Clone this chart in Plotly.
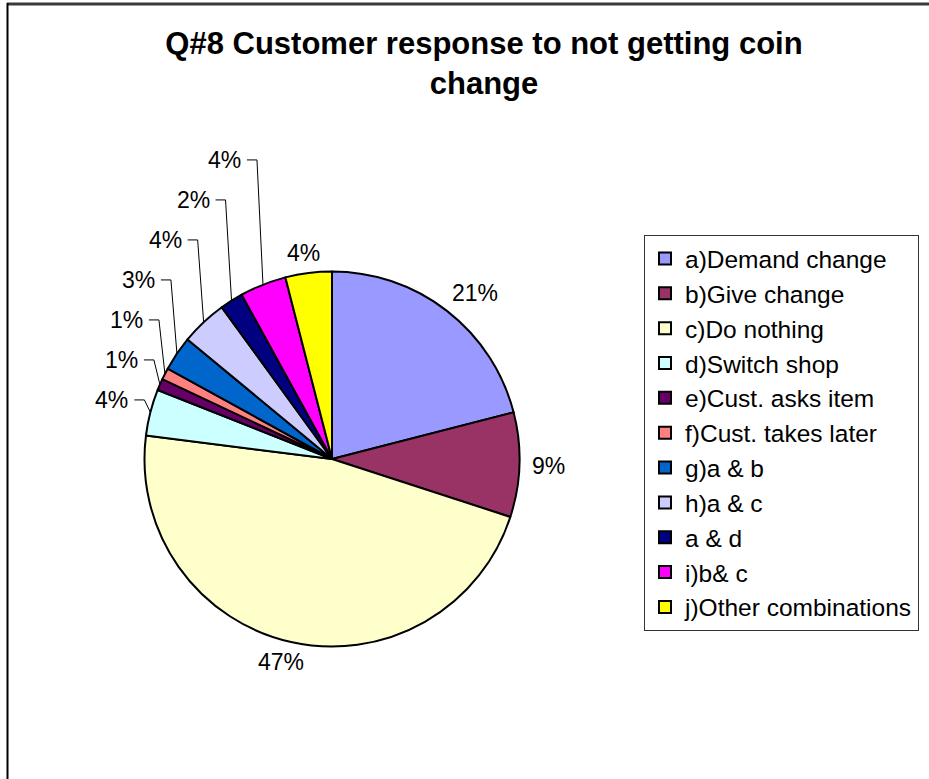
import math
import plotly.graph_objects as go

# Survey answers (share of respondents, %)
categories = ["a)Demand change", "b)Give change", "c)Do nothing", "d)Switch shop",
              "e)Cust. asks item", "f)Cust. takes later", "g)a & b", "h)a & c",
              "a & d", "i)b& c", "j)Other combinations"]
percent_values = [21, 9, 47, 4, 1, 1, 3, 4, 2, 4, 4]
slice_colors = ["#9999FF", "#993366", "#FFFFCC", "#CCFFFF", "#660066", "#FF8080",
                "#0066CC", "#CCCCFF", "#000080", "#FF00FF", "#FFFF00"]

W, H = 929, 779
CX, CY, R = 332, 459, 187.5
FONT = "Arial, Liberation Sans, sans-serif"
LABEL_SIZE = 23


def px(x):
    return x / W


def py(y):
    return 1 - y / H


fig = go.Figure(go.Pie(
    labels=categories,
    values=percent_values,
    sort=False,
    direction="clockwise",
    rotation=0,
    marker=dict(colors=slice_colors, line=dict(color="black", width=2)),
    textinfo="none",
    hoverinfo="skip",
    domain=dict(x=[px(CX - R), px(CX + R)], y=[py(CY + R), py(CY - R)]),
))

# slice mid-angles (degrees clockwise from 12 o'clock)
total = float(sum(percent_values))
mids, cum = [], 0.0
for v in percent_values:
    mids.append((cum + v / 2) / total * 360)
    cum += v
texts = [f"{round(v / total * 100)}%" for v in percent_values]

char_w = {"%": 0.889}


def text_width(s):
    return sum(char_w.get(c, 0.556) for c in s) * LABEL_SIZE


annotations, shapes = [], []

# labels that need leader lines: the crowded upper-left run of small slices
leader = [i for i, a in enumerate(mids) if 270 < a < 345]
leader.sort(key=lambda i: mids[i])
prev_y = None
for i in leader:
    a = math.radians(mids[i])
    ex, ey = CX + R * math.sin(a), CY - R * math.cos(a)
    ly = CY - (R + 50) * math.cos(a)
    if prev_y is not None:
        ly = min(ly, prev_y - 40)
    prev_y = ly
    elbow_x = ex - 6
    right = elbow_x - 14
    annotations.append(dict(x=px(right), y=py(ly), xref="paper", yref="paper",
                            text=texts[i], showarrow=False, xanchor="right",
                            yanchor="middle", font=dict(size=LABEL_SIZE, family=FONT, color="black")))
    shapes.append(dict(type="path", xref="paper", yref="paper",
                       path=f"M{px(right + 4)},{py(ly)} L{px(elbow_x)},{py(ly)} L{px(ex)},{py(ey)}",
                       line=dict(color="black", width=1)))

# remaining labels sit just outside the rim
for i, a_deg in enumerate(mids):
    if i in leader:
        continue
    a = math.radians(a_deg)
    s, c = math.sin(a), math.cos(a)
    ax, ay = CX + (R + 12) * s, CY - (R + 12) * c
    w, h = text_width(texts[i]), 17
    kx = max(-1, min(1, 1.5 * s))
    ky = max(-1, min(1, 1.5 * c))
    lx, ly = ax + kx * w / 2, ay - ky * h / 2
    annotations.append(dict(x=px(lx), y=py(ly), xref="paper", yref="paper",
                            text=texts[i], showarrow=False, xanchor="center",
                            yanchor="middle", font=dict(size=LABEL_SIZE, family=FONT, color="black")))

# chart frame
shapes.append(dict(type="line", xref="paper", yref="paper", x0=px(7), x1=px(940),
                   y0=py(4), y1=py(4), line=dict(color="#3a3a3a", width=3)))
shapes.append(dict(type="line", xref="paper", yref="paper", x0=px(7.5), x1=px(7.5),
                   y0=py(3), y1=py(790), line=dict(color="black", width=2)))

fig.update_layout(
    width=W, height=H,
    margin=dict(l=0, r=0, t=0, b=0),
    paper_bgcolor="white",
    plot_bgcolor="white",
    title=dict(text="<b>Q#8 Customer response to not getting coin<br>change</b>",
               x=484 / W, xanchor="center", y=1 - 54 / H, yanchor="top",
               font=dict(size=31, family=FONT, color="black")),
    showlegend=True,
    legend=dict(x=px(919), xanchor="right", y=py(235), yanchor="top",
                bgcolor="white", bordercolor="#333333", borderwidth=1,
                font=dict(size=24.5, family=FONT, color="black"),
                traceorder="normal"),
    annotations=annotations,
    shapes=shapes,
)

fig.write_html("out.html")
